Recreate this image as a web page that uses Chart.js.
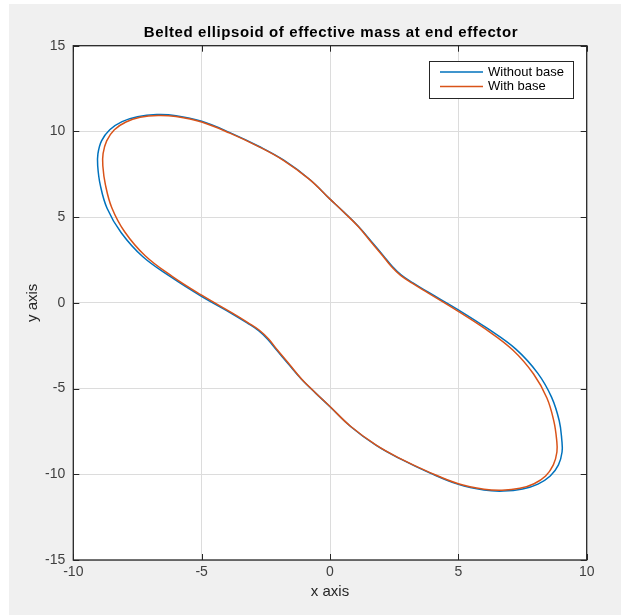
<!DOCTYPE html>
<html>
<head>
<meta charset="utf-8">
<title>Belted ellipsoid</title>
<script src="https://cdn.jsdelivr.net/npm/chart.js@4.4.0/dist/chart.umd.min.js"></script>
<style>
  html, body { margin: 0; padding: 0; background: #ffffff; }
  #ellipsoid { display: block; }
</style>
</head>
<body>
<canvas id="ellipsoid" width="621" height="615"></canvas>
<script>
const chartTitle = "Belted ellipsoid of effective mass at end effector";
const seriesNames = ["Without base", "With base"];
const xTicks = [-10, -5, 0, 5, 10];
const yTicks = [-15, -10, -5, 0, 5, 10, 15];

// Without base (blue)
const withoutBaseX = [0.00, -0.80, -1.80, -2.76, -3.90, -5.00, -6.00, -6.75, -7.50, -8.10, -8.58, -8.90, -9.04, -9.05, -8.95, -8.68, -8.14, -7.30, -6.20, -5.04, -3.83, -3.23, -2.78, -2.43, -2.07, -1.62, -1.11, -0.55, 0.00,
  0.80, 1.80, 2.76, 3.90, 5.00, 6.00, 6.75, 7.50, 8.10, 8.58, 8.90, 9.04, 9.03, 8.93, 8.63, 8.09, 7.24, 6.15, 5.00, 3.83, 3.23, 2.78, 2.43, 2.07, 1.62, 1.11, 0.55, 0.00];
const withoutBaseY = [6.05, 7.21, 8.32, 9.12, 9.93, 10.59, 10.92, 10.98, 10.86, 10.57, 10.10, 9.45, 8.70, 8.00, 6.88, 5.50, 4.10, 2.70, 1.51, 0.41, -0.62, -1.17, -1.62, -2.12, -2.77, -3.57, -4.46, -5.28, -6.06,
  -7.21, -8.32, -9.12, -9.93, -10.59, -10.92, -10.98, -10.86, -10.57, -10.10, -9.45, -8.70, -8.00, -6.88, -5.50, -4.10, -2.70, -1.51, -0.41, 0.62, 1.17, 1.62, 2.12, 2.77, 3.57, 4.46, 5.28, 6.05];

// With base (orange)
const withBaseX = [0.00, -0.80, -1.80, -2.76, -3.90, -5.00, -6.00, -6.70, -7.40, -7.95, -8.40, -8.70, -8.84, -8.85, -8.75, -8.50, -8.00, -7.20, -6.15, -5.00, -3.80, -3.20, -2.75, -2.40, -2.05, -1.60, -1.10, -0.55, 0.00,
  0.80, 1.80, 2.76, 3.90, 5.00, 6.00, 6.70, 7.40, 7.95, 8.40, 8.70, 8.84, 8.83, 8.72, 8.45, 7.93, 7.12, 6.08, 4.95, 3.80, 3.20, 2.75, 2.40, 2.05, 1.60, 1.10, 0.55, 0.00];
const withBaseY = [6.05, 7.20, 8.30, 9.10, 9.90, 10.55, 10.87, 10.93, 10.82, 10.55, 10.10, 9.45, 8.70, 8.00, 6.90, 5.55, 4.15, 2.75, 1.55, 0.45, -0.60, -1.15, -1.60, -2.10, -2.75, -3.55, -4.45, -5.27, -6.05,
  -7.20, -8.30, -9.10, -9.90, -10.55, -10.87, -10.93, -10.82, -10.55, -10.10, -9.45, -8.70, -8.00, -6.90, -5.55, -4.15, -2.75, -1.55, -0.45, 0.60, 1.15, 1.60, 2.10, 2.75, 3.55, 4.45, 5.27, 6.05];

const blue = "#0072BD";
const orange = "#D95319";
const fontFamily = "'Liberation Sans', Arial, Helvetica, sans-serif";

function toPoints(xs, ys) {
  return xs.map(function(x, i) { return { x: x, y: ys[i] }; });
}

// gray figure, white axes, box, inward ticks, title and legend
const matlabLook = {
  id: "matlabLook",
  beforeDraw: function(chart) {
    const ctx = chart.ctx;
    const a = chart.chartArea;
    ctx.save();
    ctx.fillStyle = "#ffffff";
    ctx.fillRect(0, 0, chart.width, chart.height);
    ctx.fillStyle = "#f0f0f0";
    ctx.fillRect(9, 4, chart.width - 9, chart.height - 4);
    ctx.fillStyle = "#ffffff";
    ctx.fillRect(a.left, a.top, a.right - a.left, a.bottom - a.top);
    ctx.restore();
  },
  afterDraw: function(chart) {
    const ctx = chart.ctx;
    const a = chart.chartArea;
    const xs = chart.scales.x;
    const ys = chart.scales.y;
    ctx.save();
    ctx.strokeStyle = "#262626";
    ctx.lineWidth = 1.3;
    ctx.strokeRect(a.left, a.top, a.right - a.left, a.bottom - a.top);

    ctx.lineWidth = 1;
    ctx.beginPath();
    xTicks.forEach(function(v) {
      const px = Math.round(xs.getPixelForValue(v)) + 0.5;
      ctx.moveTo(px, a.bottom); ctx.lineTo(px, a.bottom - 6);
      ctx.moveTo(px, a.top); ctx.lineTo(px, a.top + 6);
    });
    yTicks.forEach(function(v) {
      const py = Math.round(ys.getPixelForValue(v)) + 0.5;
      ctx.moveTo(a.left, py); ctx.lineTo(a.left + 6, py);
      ctx.moveTo(a.right, py); ctx.lineTo(a.right - 6, py);
    });
    ctx.stroke();

    // title
    ctx.fillStyle = "#000000";
    ctx.font = "bold 15px " + fontFamily;
    ctx.letterSpacing = "0.6px";
    ctx.textAlign = "center";
    ctx.textBaseline = "middle";
    ctx.fillText(chartTitle, 331, 32.5);
    ctx.letterSpacing = "0px";

    // legend
    const lx = 429.5, ly = 61.5, lw = 144, lh = 37;
    ctx.fillStyle = "#ffffff";
    ctx.fillRect(lx, ly, lw, lh);
    ctx.strokeStyle = "#262626";
    ctx.lineWidth = 1;
    ctx.strokeRect(lx, ly, lw, lh);
    const rows = [72, 86.5];
    chart.data.datasets.forEach(function(ds, i) {
      ctx.strokeStyle = ds.borderColor;
      ctx.lineWidth = 1.5;
      ctx.beginPath();
      ctx.moveTo(440, rows[i]);
      ctx.lineTo(483, rows[i]);
      ctx.stroke();
      ctx.fillStyle = "#000000";
      ctx.font = "13px " + fontFamily;
      ctx.textAlign = "left";
      ctx.textBaseline = "middle";
      ctx.fillText(ds.label, 488, rows[i]);
    });
    ctx.restore();
  }
};

var chart = new Chart(document.getElementById("ellipsoid"), {
  type: "scatter",
  data: {
    datasets: [{
      label: seriesNames[0],
      data: toPoints(withoutBaseX, withoutBaseY),
      borderColor: blue,
      backgroundColor: blue,
      order: 1
    }, {
      label: seriesNames[1],
      data: toPoints(withBaseX, withBaseY),
      borderColor: orange,
      backgroundColor: orange,
      order: 0
    }]
  },
  options: {
    responsive: false,
    animation: false,
    devicePixelRatio: 1,
    showLine: true,
    elements: {
      point: { radius: 0, hoverRadius: 0 },
      line: { borderWidth: 1.5, tension: 0.4, fill: false }
    },
    layout: { padding: { left: 0, top: 45.7, right: 34.3, bottom: 0 } },
    plugins: {
      legend: { display: false },
      tooltip: { enabled: false },
      title: { display: false }
    },
    scales: {
      x: {
        type: "linear",
        min: -10,
        max: 10,
        afterBuildTicks: function(scale) { scale.ticks = xTicks.map(function(v) { return { value: v }; }); },
        afterFit: function(scale) { scale.height = 55; },
        grid: { color: "#dcdcdc", drawTicks: false },
        border: { display: false },
        ticks: { padding: 4, color: "#404040", font: { family: fontFamily, size: 14 } },
        title: { display: true, text: "x axis", color: "#262626", font: { family: fontFamily, size: 15 }, padding: { top: 0, bottom: 13.7 } }
      },
      y: {
        type: "linear",
        min: -15,
        max: 15,
        afterBuildTicks: function(scale) { scale.ticks = yTicks.map(function(v) { return { value: v }; }); },
        afterFit: function(scale) { scale.width = 73.3; },
        grid: { color: "#dcdcdc", drawTicks: false },
        border: { display: false },
        ticks: { padding: 8, color: "#404040", font: { family: fontFamily, size: 14 } },
        title: { display: true, text: "y axis", color: "#262626", font: { family: fontFamily, size: 15 }, padding: { top: 24.3, bottom: 0 } }
      }
    }
  },
  plugins: [matlabLook]
});
</script>
</body>
</html>
